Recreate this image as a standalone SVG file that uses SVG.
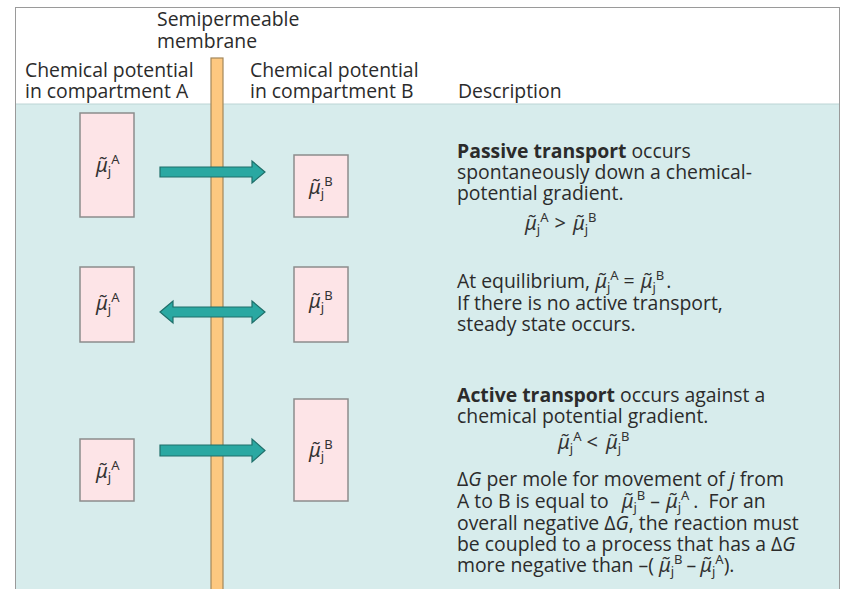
<svg xmlns="http://www.w3.org/2000/svg" width="844" height="589" viewBox="0 0 844 589">
<defs>
<style>
.t{font-family:"Open Sans","Noto Sans","DejaVu Sans",sans-serif;font-size:19.4px;fill:#2b2b2b}
.b{font-weight:bold}
.i{font-style:italic}
.m{font-family:"Noto Sans","DejaVu Sans",sans-serif;font-size:20px;fill:#333}
.mu{font-style:italic}
.s{font-size:13px}
.box{fill:#fde4e7;stroke:#8c8c8c;stroke-width:1.5}
.arr{fill:#2aa8a2;stroke:#1f6f6a;stroke-width:1.2}
</style>
</defs>
<rect x="0" y="0" width="844" height="589" fill="#ffffff"/>
<rect x="15.5" y="7.5" width="824" height="600" fill="#ffffff" stroke="#9a9a9a" stroke-width="1"/>
<rect x="16" y="104" width="823" height="485" fill="#d7ecec"/>
<line x1="16" y1="104" x2="839" y2="104" stroke="#bcd4d4" stroke-width="1"/>

<g id="header">
<text class="t" x="157" y="26">Semipermeable</text>
<text class="t" x="157" y="48">membrane</text>
<text class="t" x="25" y="77">Chemical potential</text>
<text class="t" x="25" y="98">in compartment A</text>
<text class="t" x="250" y="77">Chemical potential</text>
<text class="t" x="250" y="98">in compartment B</text>
<text class="t" x="458" y="98">Description</text>
</g>

<g id="membrane">
<rect x="211" y="58" width="12" height="540" fill="#fdc880" stroke="#a3875a" stroke-width="1.2"/>
</g>

<g id="row1-A"><rect class="box" x="80" y="113" width="54" height="104"/>
<text class="m" x="96" y="172"><tspan class="mu">μ̃</tspan><tspan class="s" dy="4">j</tspan><tspan class="s" dy="-12">A</tspan></text></g>
<g id="row1-B"><rect class="box" x="294" y="155" width="54" height="62"/>
<text class="m" x="309" y="194"><tspan class="mu">μ̃</tspan><tspan class="s" dy="4">j</tspan><tspan class="s" dy="-12">B</tspan></text></g>

<g id="row2-A"><rect class="box" x="80" y="267" width="54" height="75"/>
<text class="m" x="96" y="310"><tspan class="mu">μ̃</tspan><tspan class="s" dy="4">j</tspan><tspan class="s" dy="-12">A</tspan></text></g>
<g id="row2-B"><rect class="box" x="294" y="267" width="54" height="75"/>
<text class="m" x="309" y="308"><tspan class="mu">μ̃</tspan><tspan class="s" dy="4">j</tspan><tspan class="s" dy="-12">B</tspan></text></g>

<g id="row3-A"><rect class="box" x="80" y="439" width="54" height="62"/>
<text class="m" x="96" y="478"><tspan class="mu">μ̃</tspan><tspan class="s" dy="4">j</tspan><tspan class="s" dy="-12">A</tspan></text></g>
<g id="row3-B"><rect class="box" x="294" y="399" width="54" height="102"/>
<text class="m" x="309" y="457"><tspan class="mu">μ̃</tspan><tspan class="s" dy="4">j</tspan><tspan class="s" dy="-12">B</tspan></text></g>

<g id="connectors">
<path class="arr" d="M160,167 L252,167 L252,161 L265,172 L252,183 L252,177 L160,177 Z"/>
<path class="arr" d="M160,312 L173,301 L173,307 L252,307 L252,301 L265,312 L252,323 L252,317 L173,317 L173,323 Z"/>
<path class="arr" d="M160,445 L252,445 L252,439 L265,450.5 L252,462 L252,456 L160,456 Z"/>
</g>

<g id="desc1">
<text class="t" x="457" y="158"><tspan class="b">Passive transport</tspan> occurs</text>
<text class="t" x="457" y="179">spontaneously down a chemical-</text>
<text class="t" x="457" y="200">potential gradient.</text>
<text class="m" x="525" y="230"><tspan class="mu">μ̃</tspan><tspan class="s" dy="4">j</tspan><tspan class="s" dy="-12">A</tspan><tspan dx="6" dy="8">&gt;</tspan><tspan class="mu" dx="7">μ̃</tspan><tspan class="s" dy="4">j</tspan><tspan class="s" dy="-12">B</tspan></text>
</g>

<g id="desc2">
<text class="t" x="457" y="288">At equilibrium, <tspan class="m mu">μ̃</tspan><tspan class="m s" dy="4">j</tspan><tspan class="m s" dy="-12">A</tspan><tspan dx="5" dy="8">=</tspan><tspan class="m mu" dx="6">μ̃</tspan><tspan class="m s" dy="4">j</tspan><tspan class="m s" dy="-12">B</tspan><tspan dx="2" dy="8">.</tspan></text>
<text class="t" x="457" y="310">If there is no active transport,</text>
<text class="t" x="457" y="331">steady state occurs.</text>
</g>

<g id="desc3">
<text class="t" x="457" y="402"><tspan class="b">Active transport</tspan> occurs against a</text>
<text class="t" x="457" y="423">chemical potential gradient.</text>
<text class="m" x="558" y="449"><tspan class="mu">μ̃</tspan><tspan class="s" dy="4">j</tspan><tspan class="s" dy="-12">A</tspan><tspan dx="5" dy="8">&lt;</tspan><tspan class="mu" dx="8">μ̃</tspan><tspan class="s" dy="4">j</tspan><tspan class="s" dy="-12">B</tspan></text>
<text class="t" x="457" y="486">Δ<tspan class="i">G</tspan> per mole for movement of <tspan class="i">j</tspan> from</text>
<text class="t" x="457" y="508">A to B is equal to <tspan class="m mu" dx="8">μ̃</tspan><tspan class="m s" dy="4">j</tspan><tspan class="m s" dy="-12">B</tspan><tspan dx="5" dy="8">–</tspan><tspan class="m mu" dx="6">μ̃</tspan><tspan class="m s" dy="4">j</tspan><tspan class="m s" dy="-12">A</tspan><tspan dx="4" dy="8">.</tspan><tspan dx="10">For an</tspan></text>
<text class="t" x="457" y="530">overall negative Δ<tspan class="i">G</tspan>, the reaction must</text>
<text class="t" x="457" y="551">be coupled to a process that has a Δ<tspan class="i">G</tspan></text>
<text class="t" x="457" y="572">more negative than –( <tspan class="m mu">μ̃</tspan><tspan class="m s" dy="4">j</tspan><tspan class="m s" dy="-12">B</tspan><tspan dx="4" dy="8">–</tspan><tspan class="m mu" dx="4">μ̃</tspan><tspan class="m s" dy="4">j</tspan><tspan class="m s" dy="-12">A</tspan><tspan dy="8">).</tspan></text>
</g>
</svg>
